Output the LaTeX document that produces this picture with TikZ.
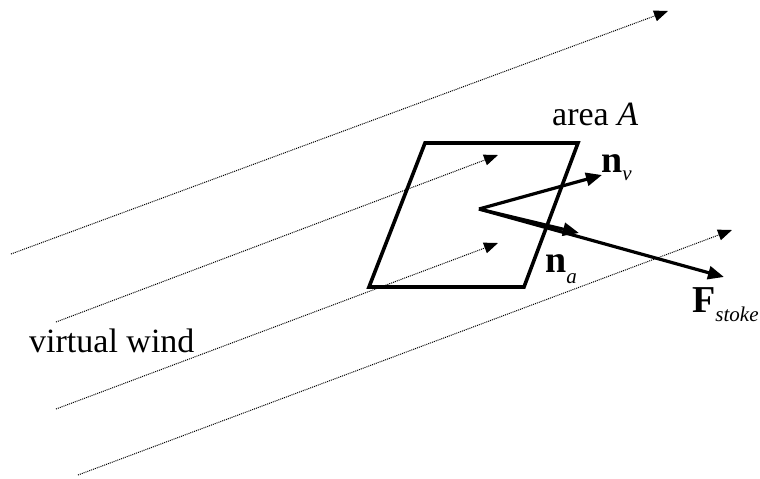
\documentclass[tikz,border=0pt]{standalone}
\usepackage{fontspec}
\setmainfont{Liberation Serif}
\usetikzlibrary{arrows.meta}
\newcommand{\subtxt}[1]{{\fontsize{21}{22}\selectfont\mdseries\itshape #1}}
\begin{document}
\begin{tikzpicture}[x=1pt,y=-1pt,
  wind/.style={densely dotted, line width=1pt, -{Triangle[length=14pt,width=11pt]}},
  vec/.style={line width=3.2pt, -{Triangle[length=16pt,width=13pt]}},
  plate/.style={line width=3.6pt, line join=miter},
  lbl/.style={anchor=base west, inner sep=0pt, font=\fontsize{34}{36}\selectfont},
  blbl/.style={anchor=base west, inner sep=0pt, font=\fontsize{38}{40}\selectfont\bfseries}]
\useasboundingbox (0,0) rectangle (760,479);
% wind lines
\coordinate (w1s) at (11,254);  \coordinate (w1e) at (668,11);
\coordinate (w2s) at (56,322);  \coordinate (w2e) at (498,155);
\coordinate (w3s) at (56,409);  \coordinate (w3e) at (498,243);
\coordinate (w4s) at (78,475);  \coordinate (w4e) at (732,230);
\draw[wind] (w1s) -- (w1e);
\draw[wind] (w2s) -- (w2e);
\draw[wind] (w3s) -- (w3e);
\draw[wind] (w4s) -- (w4e);
% plate
\coordinate (p1) at (425,143);
\coordinate (p2) at (578,143);
\coordinate (p3) at (524,287);
\coordinate (p4) at (369,287);
\draw[plate] (p1) -- (p2) -- (p3) -- (p4) -- cycle;
% vectors
\coordinate (c) at (479,209);
\coordinate (nvt) at (602,175);
\coordinate (nat) at (579,233);
\coordinate (ft) at (724,277);
\draw[vec] (c) -- (nvt);
\draw[vec] (c) -- (nat);
\draw[vec] (c) -- (ft);
% labels
\node[lbl] (areaA) at (552,125) {area \textit{A}};
\node[lbl] (vw) at (29,352) {virtual wind};
\node[blbl] (nv) at (601,172) {n\raisebox{-8pt}{\subtxt{v}}};
\node[blbl] (na) at (545,272) {n\raisebox{-11pt}{\subtxt{a}}};
\node[blbl] (fs) at (692,312) {F\raisebox{-9pt}{\subtxt{stoke}}};
\end{tikzpicture}
\end{document}
